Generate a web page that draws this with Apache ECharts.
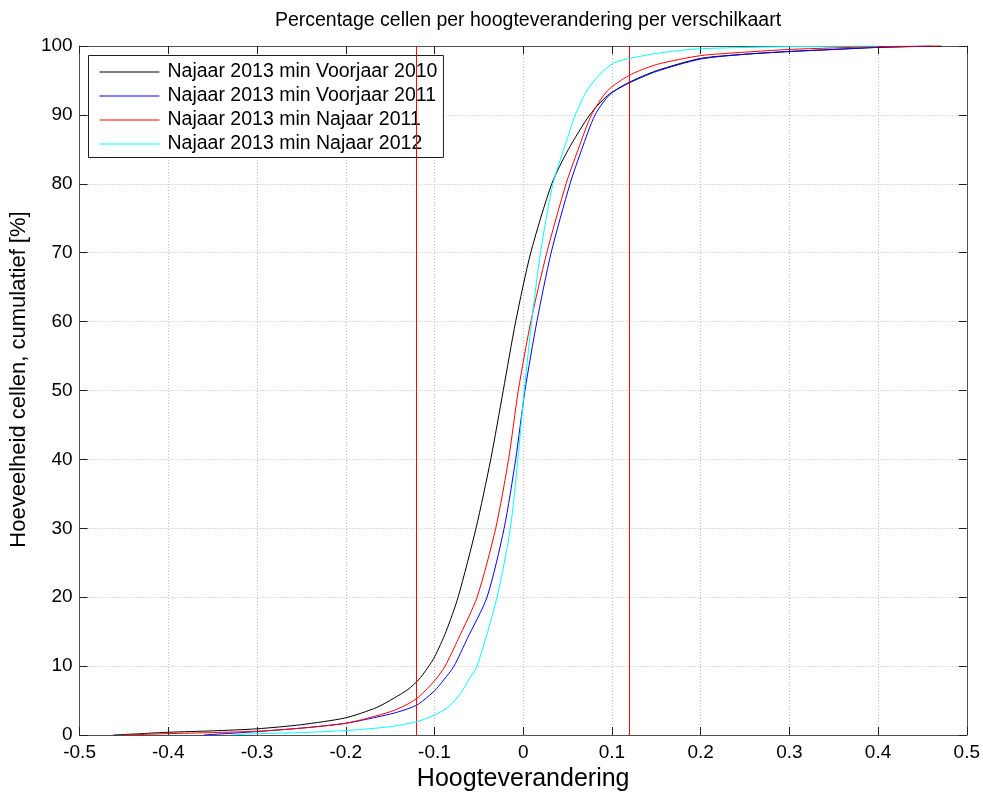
<!DOCTYPE html>
<html>
<head>
<meta charset="utf-8">
<title>Percentage cellen per hoogteverandering</title>
<script src="https://cdn.jsdelivr.net/npm/echarts@6/dist/echarts.min.js"></script>
<style>
  html, body { margin: 0; padding: 0; background: #ffffff; }
  #chart { width: 983px; height: 797px; }
</style>
</head>
<body>
<div id="chart"></div>
<script>
// Cumulative share of cells (%) against height change, one curve per difference map
const seriesNames = [
  'Najaar 2013 min Voorjaar 2010',
  'Najaar 2013 min Voorjaar 2011',
  'Najaar 2013 min Najaar 2011',
  'Najaar 2013 min Najaar 2012'
];

const voorjaar2010 = [
  [-0.462, 0], [-0.43, 0.2], [-0.4, 0.4], [-0.35, 0.6], [-0.3, 0.9], [-0.25, 1.5],
  [-0.2, 2.5], [-0.165, 4.0], [-0.145, 5.4], [-0.13, 6.6], [-0.118, 8.0], [-0.108, 9.7],
  [-0.1, 11.3], [-0.087, 15], [-0.0734, 20], [-0.0532, 30], [-0.0366, 40], [-0.0225, 50],
  [-0.0085, 60], [0.0085, 70], [0.0322, 80], [0.051, 85], [0.075, 90], [0.095, 92.8],
  [0.119, 94.7], [0.15, 96.4], [0.2, 98.2], [0.25, 98.8], [0.3, 99.2], [0.35, 99.5],
  [0.4, 99.8], [0.472, 100]
];

const voorjaar2011 = [
  [-0.36, 0], [-0.3, 0.5], [-0.25, 1.0], [-0.2, 1.7], [-0.165, 2.6], [-0.145, 3.2],
  [-0.13, 3.8], [-0.118, 4.5], [-0.1, 6.4], [-0.0896, 8.0], [-0.078, 10], [-0.063, 14],
  [-0.0408, 20], [-0.0215, 30], [-0.0085, 40], [0.002, 50], [0.0154, 60], [0.0315, 70],
  [0.0528, 80], [0.066, 85], [0.081, 90], [0.098, 93], [0.119, 94.6], [0.15, 96.3],
  [0.2, 98.1], [0.25, 98.8], [0.3, 99.2], [0.35, 99.5], [0.4, 99.8], [0.46, 100]
];

const najaar2011 = [
  [-0.45, 0], [-0.4, 0.2], [-0.35, 0.35], [-0.3, 0.55], [-0.25, 1.0], [-0.2, 1.7],
  [-0.165, 2.8], [-0.145, 3.6], [-0.13, 4.5], [-0.118, 5.5], [-0.099, 8.0], [-0.088, 10],
  [-0.073, 14], [-0.052, 20], [-0.031, 30], [-0.0165, 40], [-0.0055, 50], [0.0086, 60],
  [0.0266, 70], [0.0483, 80], [0.062, 85], [0.077, 90], [0.095, 93.5], [0.119, 95.7],
  [0.15, 97.3], [0.2, 98.6], [0.25, 99.1], [0.3, 99.5], [0.4, 99.9], [0.47, 100]
];

const najaar2012 = [
  [-0.33, 0], [-0.3, 0.2], [-0.25, 0.35], [-0.2, 0.64], [-0.165, 1.0], [-0.145, 1.3],
  [-0.118, 2.0], [-0.1, 2.9], [-0.085, 4.0], [-0.0708, 6.0], [-0.0615, 8.0], [-0.052, 10],
  [-0.0295, 20], [-0.0145, 30], [-0.006, 40], [0.0012, 50], [0.0095, 60], [0.0195, 70],
  [0.0335, 80], [0.049, 86.3], [0.0584, 89.9], [0.0716, 93.5], [0.0865, 95.9],
  [0.1015, 97.5], [0.1165, 98.1], [0.154, 99.0], [0.2, 99.6], [0.3, 99.9], [0.4, 100]
];

// Vertical reference lines (height change thresholds)
const thresholds = [-0.119, 0.117];

// Axis ticks
const xTicks = [-0.5, -0.4, -0.3, -0.2, -0.1, 0, 0.1, 0.2, 0.3, 0.4, 0.5];
const yTicks = [0, 10, 20, 30, 40, 50, 60, 70, 80, 90, 100];

const seriesColors = ['#000000', '#0000ff', '#ff0000', '#00ffff'];
const seriesData = [voorjaar2010, voorjaar2011, najaar2011, najaar2012];

const FONT = '"Liberation Sans", Arial, Helvetica, sans-serif';
const frameColor = '#505050';
const gridLine = { show: true, lineStyle: { color: '#bdbdbd', width: 1, type: [1, 2] } };
// thin horizontal bar used as the legend key
const legendKey = 'path://M0,0H60V1H0Z';

function baseAxis(ticks, extra) {
  const step = +(ticks[1] - ticks[0]).toFixed(6);
  return Object.assign({
    type: 'value',
    min: ticks[0],
    max: ticks[ticks.length - 1],
    interval: step,
    axisLine: { show: true, onZero: false, lineStyle: { color: frameColor, width: 1 } },
    axisTick: { show: true, inside: true, length: 8, lineStyle: { color: '#202020', width: 1 } },
    splitLine: { show: false }
  }, extra);
}

const chart = echarts.init(document.getElementById('chart'), null, { renderer: 'canvas' });

const series = [{
  name: 'drempel',
  type: 'line',
  data: [],
  silent: true,
  markLine: {
    symbol: ['none', 'none'],
    silent: true,
    label: { show: false },
    lineStyle: { color: '#ff0000', width: 1, type: 'solid', opacity: 1 },
    emphasis: { disabled: true },
    data: thresholds.map(v => ({ xAxis: v }))
  }
}];

seriesNames.forEach((name, i) => {
  series.push({
    name: name,
    type: 'line',
    data: seriesData[i],
    symbol: 'none',
    showSymbol: false,
    smooth: 0.25,
    lineStyle: { color: seriesColors[i], width: 1 },
    itemStyle: { color: seriesColors[i] },
    emphasis: { disabled: true },
    z: 3 + i
  });
});

chart.setOption({
  animation: false,
  backgroundColor: '#ffffff',
  textStyle: { fontFamily: FONT },
  title: {
    text: 'Percentage cellen per hoogteverandering per verschilkaart',
    left: 523,
    top: 6,
    textAlign: 'center',
    textStyle: { fontFamily: FONT, fontSize: 19.5, fontWeight: 'normal', color: '#000' }
  },
  legend: {
    data: seriesNames.map((n, i) => ({
      name: n,
      icon: legendKey,
      itemStyle: { color: seriesColors[i], borderWidth: 0 }
    })),
    orient: 'vertical',
    left: 88.5,
    top: 55.5,
    itemWidth: 60,
    itemHeight: 20,
    itemGap: 4,
    symbolKeepAspect: true,
    padding: [6.5, 6, 3.5, 11],
    backgroundColor: '#ffffff',
    borderColor: '#202020',
    borderWidth: 1,
    borderRadius: 0,
    selectedMode: false,
    textStyle: { fontFamily: FONT, fontSize: 19.5, color: '#000', padding: [0, 0, 0, 3] }
  },
  grid: { left: 79, right: 15, top: 46, bottom: 51, containLabel: false },
  xAxis: [
    baseAxis(xTicks, {
      position: 'bottom',
      name: 'Hoogteverandering',
      nameLocation: 'middle',
      nameGap: 32,
      nameTextStyle: { fontFamily: FONT, fontSize: 25, color: '#000' },
      axisLabel: { show: true, margin: 8, fontFamily: FONT, fontSize: 19, color: '#000' },
      splitLine: gridLine
    }),
    baseAxis(xTicks, { position: 'top', axisLabel: { show: false } })
  ],
  yAxis: [
    baseAxis(yTicks, {
      position: 'left',
      name: 'Hoeveelheid cellen, cumulatief [%]',
      nameLocation: 'middle',
      nameGap: 48,
      nameRotate: 90,
      nameTextStyle: { fontFamily: FONT, fontSize: 22, color: '#000', padding: [0, 0, 0, 22] },
      axisLabel: { show: true, margin: 7, fontFamily: FONT, fontSize: 19, color: '#000' },
      splitLine: gridLine
    }),
    baseAxis(yTicks, { position: 'right', axisLabel: { show: false } })
  ],
  series: series
});
</script>
</body>
</html>
